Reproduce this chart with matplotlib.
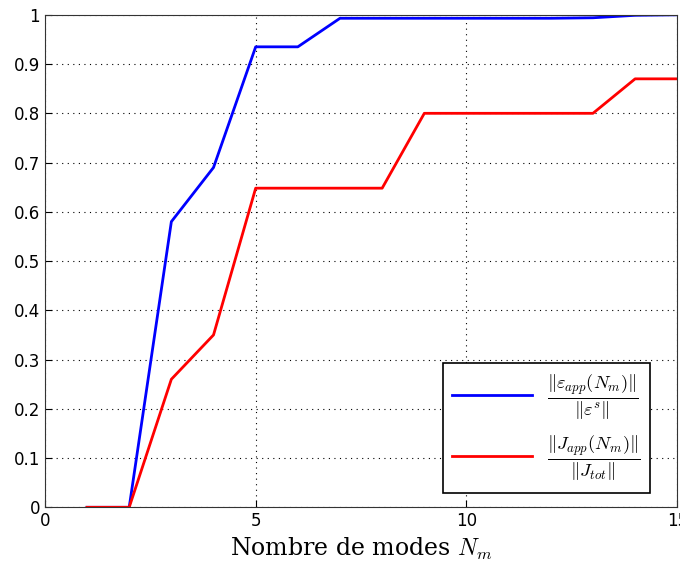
import matplotlib
matplotlib.use("Agg")
import matplotlib.pyplot as plt

x_modes = [1, 2, 3, 4, 5, 6, 7, 8, 9, 10, 11, 12, 13, 14, 15]
eps_ratio = [0, 0, 0.58, 0.69, 0.935, 0.935, 0.993, 0.993, 0.993, 0.993, 0.993, 0.993, 0.994, 0.999, 1.0]
j_ratio = [0, 0, 0.26, 0.35, 0.648, 0.648, 0.648, 0.648, 0.80, 0.80, 0.80, 0.80, 0.80, 0.87, 0.87]
xticks = [0, 5, 10, 15]
yticks = [0, 0.1, 0.2, 0.3, 0.4, 0.5, 0.6, 0.7, 0.8, 0.9, 1]

plt.rcParams['mathtext.fontset'] = 'cm'
fig = plt.figure(figsize=(6.8, 5.7), dpi=100)
ax = fig.add_axes([0.066, 0.11, 0.930, 0.864])

ax.plot(x_modes, eps_ratio, color='#0000ff', lw=2,
        label=r'$\frac{\|\varepsilon_{app}(N_m)\|}{\|\varepsilon^s\|}$')
ax.plot(x_modes, j_ratio, color='#ff0000', lw=2,
        label=r'$\frac{\|J_{app}(N_m)\|}{\|J_{tot}\|}$')

ax.set_xlim(0, 15)
ax.set_ylim(0, 1)
ax.set_xticks(xticks)
ax.set_yticks(yticks)
ax.set_yticklabels([f'{v:g}' for v in yticks])
ax.grid(True, linestyle=(0, (1, 4)), color='black', linewidth=0.8)
ax.tick_params(direction='in', length=5, labelsize=12)
for s in ax.spines.values():
    s.set_color('#333333')
ax.set_xlabel(r'Nombre de modes $N_m$', fontsize=17, fontname='DejaVu Serif')

leg = ax.legend(loc='lower right', bbox_to_anchor=(0.957, 0.03), fontsize=19,
                fancybox=False, edgecolor='black', framealpha=1,
                handlelength=3.0, handletextpad=0.6, labelspacing=0.45,
                borderpad=0.35, borderaxespad=0)
leg.get_frame().set_linewidth(1.2)

fig.savefig('out.png', dpi=100)
